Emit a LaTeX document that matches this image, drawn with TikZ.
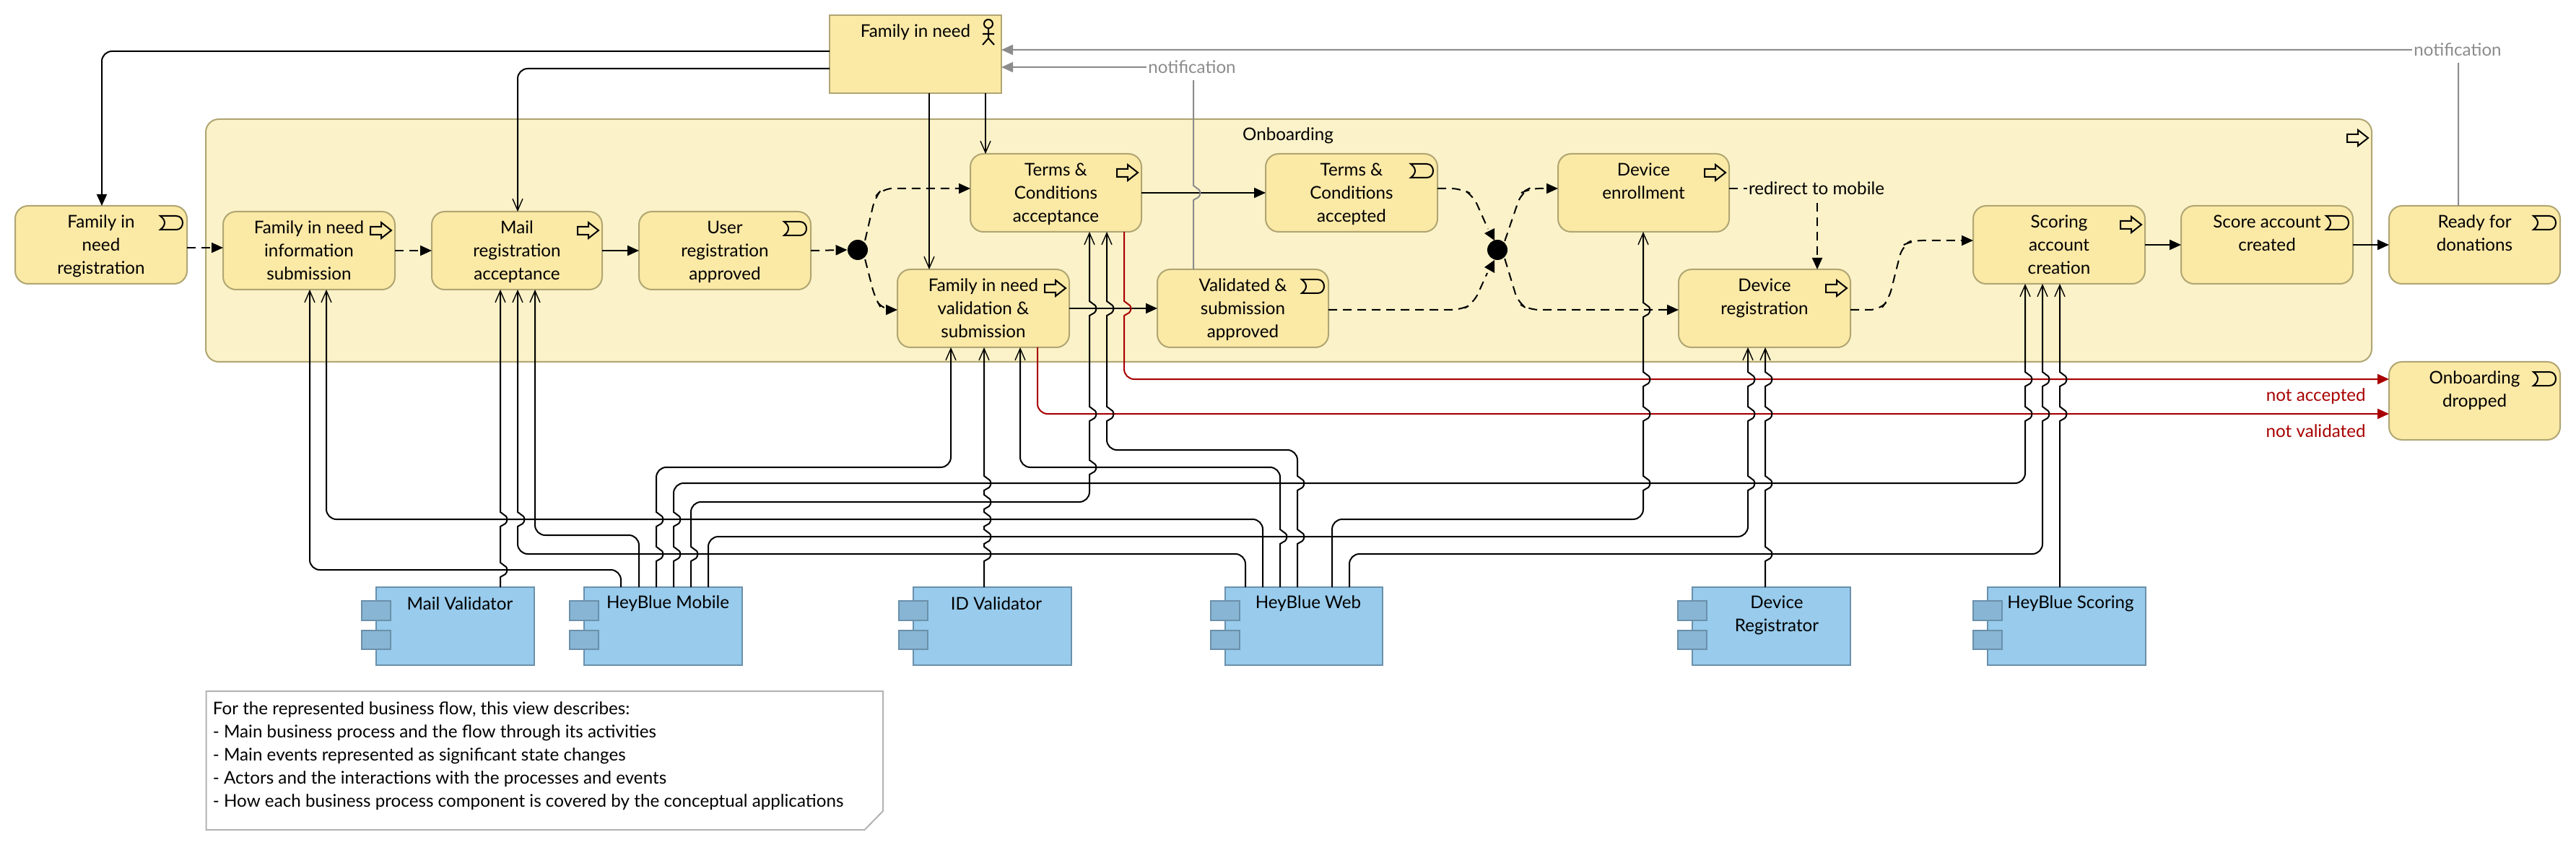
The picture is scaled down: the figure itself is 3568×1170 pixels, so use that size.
\documentclass[tikz,border=0pt]{standalone}
\usepackage{fontspec}
\setmainfont{Lato}
\usetikzlibrary{arrows.meta,calc}
\definecolor{yel}{HTML}{FBE9A6}
\definecolor{grp}{HTML}{FBF2C9}
\definecolor{yelb}{HTML}{B0A672}
\definecolor{blu}{HTML}{98CBEC}
\definecolor{blub}{HTML}{6A90AB}
\definecolor{blun}{HTML}{88B5D4}
\definecolor{rd}{HTML}{A80000}
\definecolor{gry}{HTML}{8C8C8C}
\definecolor{noteb}{HTML}{B3B3B3}
\newcommand{\txtsize}{\fontsize{12.1pt}{16pt}\selectfont}
\newcommand{\tb}[1]{\parbox[c][54pt][t]{112pt}{\centering\txtsize\vspace*{4.2pt}\strut #1\strut}}
% jump of a line over another one
\newcommand{\bU}[2]{[sharp corners] -- (#1,#2+10) -- (#1+7,#2+6) .. controls (#1+10,#2+3) and (#1+10,#2-2) .. (#1+8,#2-4) -- (#1,#2-10) [rounded corners=7pt]}
\newcommand{\bD}[2]{[sharp corners] -- (#1,#2-10) -- (#1+8,#2-4) .. controls (#1+10,#2-2) and (#1+10,#2+3) .. (#1+7,#2+6) -- (#1,#2+10) [rounded corners=7pt]}
\newcommand{\icP}[1]{\draw[icon,shift={(#1.north east)}] (-34,21) -- (-19,21) -- (-19,15) -- (-5,26) -- (-19,37) -- (-19,32) -- (-34,32) -- cycle;}
\newcommand{\icE}[1]{\draw[icon,shift={(#1.north east)}] (-37,14) -- (-15,14) .. controls (-3,14) and (-3,33) .. (-15,33) -- (-37,33) .. controls (-29,27) and (-29,20) .. (-37,14) -- cycle;}
\newcommand{\notches}[1]{%
 \draw[notch] ($(#1.north west)+(-20,19)$) rectangle ($(#1.north west)+(20,46)$);
 \draw[notch] ($(#1.north west)+(-20,60)$) rectangle ($(#1.north west)+(20,86)$);}
\tikzset{
 x=0.5pt,y=-0.5pt,
 ybox/.style={draw=yelb,fill=yel,line width=1pt,rounded corners=9pt,minimum height=54pt,inner sep=0pt,outer sep=0pt,anchor=north west},
 act/.style={draw=yelb,fill=yel,line width=1pt,minimum height=54pt,inner sep=0pt,outer sep=0pt,anchor=north west},
 cmp/.style={draw=blub,fill=blu,line width=1pt,minimum height=54pt,inner sep=0pt,outer sep=0pt,anchor=north west},
 notch/.style={draw=blub,fill=blun,line width=1pt},
 icon/.style={draw=black,line width=1pt,line join=miter},
 conn/.style={draw=black,line width=1pt,rounded corners=7pt},
 srv/.style={conn,-{Straight Barb[length=8pt,width=7pt,line width=0.7pt]}},
 trg/.style={conn,-{Triangle[length=8pt,width=7pt]}},
 flw/.style={trg,dash pattern=on 6pt off 4pt},
 gryl/.style={conn,draw=gry,-{Triangle[length=8pt,width=7pt,fill=gry]}},
 redl/.style={conn,draw=rd,-{Triangle[length=8pt,width=7pt,fill=rd]}},
 lab/.style={inner sep=1pt,font=\txtsize},
}
\begin{document}
\begin{tikzpicture}
\useasboundingbox (0,0) rectangle (3568,1170);
\fill[white] (0,0) rectangle (3568,1170);
% group
\node[ybox,fill=grp,minimum width=1500pt,minimum height=168pt] (group) at (285,165) {};
\node[lab] (grouplabel) at (1784,188) {Onboarding};
% actor
\node[act,minimum width=119pt] (actor) at (1149,21) {\tb{Family in need}};
% boxes
\node[ybox,minimum width=119pt] (reg) at (21,285) {\tb{Family in\\need\\registration}};
\node[ybox,minimum width=119pt] (info) at (309,293) {\tb{Family in need\\information\\submission}};
\node[ybox,minimum width=118pt] (mail) at (598,293) {\tb{Mail\\registration\\acceptance}};
\node[ybox,minimum width=119pt] (user) at (885,293) {\tb{User\\registration\\approved}};
\node[ybox,minimum width=118.5pt] (terms) at (1344,213) {\tb{Terms \&\\Conditions\\acceptance}};
\node[ybox,minimum width=119pt] (accepted) at (1753,213) {\tb{Terms \&\\Conditions\\accepted}};
\node[ybox,minimum width=118.5pt] (enroll) at (2158,213) {\tb{Device\\enrollment}};
\node[ybox,minimum width=119pt] (valid) at (1243,373) {\tb{Family in need\\validation \&\\submission}};
\node[ybox,minimum width=118.5pt] (validated) at (1603,373) {\tb{Validated \&\\submission\\approved}};
\node[ybox,minimum width=119pt] (devreg) at (2325,373) {\tb{Device\\registration}};
\node[ybox,minimum width=119pt] (scoring) at (2733,285) {\tb{Scoring\\account\\creation}};
\node[ybox,minimum width=119pt] (created) at (3021,285) {\tb{Score account\\created}};
\node[ybox,minimum width=118.5pt] (ready) at (3309,285) {\tb{Ready for\\donations}};
\node[ybox,minimum width=118.5pt] (dropped) at (3309,501) {\tb{Onboarding\\dropped}};
% icons
\icP{group}\icP{info}\icP{mail}\icP{terms}\icP{enroll}\icP{valid}\icP{devreg}\icP{scoring}
\icE{reg}\icE{user}\icE{accepted}\icE{validated}\icE{created}\icE{ready}\icE{dropped}
\draw[icon,shift={(actor.north east)}] (-18,12) circle[radius=3pt];
\draw[icon,shift={(actor.north east)}] (-18,18) -- (-18,32) (-26,26) -- (-10,26) (-26,41) -- (-18,32) -- (-10,41);
% applications
\node[cmp,minimum width=109.5pt] (mailval) at (520.5,813) {};
\node[cmp,minimum width=109.5pt] (mobile) at (809,813) {};
\node[cmp,minimum width=109.5pt] (idval) at (1265,813) {};
\node[cmp,minimum width=109pt] (web) at (1697,813) {};
\node[cmp,minimum width=109.5pt] (devapp) at (2344,813) {};
\node[cmp,minimum width=109.5pt] (scapp) at (2752.5,813) {};
\notches{mailval}\notches{mobile}\notches{idval}\notches{web}\notches{devapp}\notches{scapp}
\node[lab] (lmailval) at (637,836) {Mail Validator};
\node[lab] (lmobile) at (925,836) {HeyBlue Mobile};
\node[lab] (lidval) at (1380,836) {ID Validator};
\node[lab] (lweb) at (1812,836) {HeyBlue Web};
\node[lab,align=center] (ldevapp) at (2461,852) {Device\\Registrator};
\node[lab] (lscapp) at (2868,836) {HeyBlue Scoring};
% junctions
\node[circle,fill=black,minimum size=14pt,inner sep=0pt] (j1) at (1188,346) {};
\node[circle,fill=black,minimum size=14pt,inner sep=0pt] (j2) at (2074,346) {};
% flows
\draw[flw] (reg.east |- 0,343) -- (info.west |- 0,343);
\draw[flw] (info.east) -- (mail.west);
\draw[trg] (mail.east) -- (user.west);
\draw[flw] (user.east) -- (j1.west);
\draw[flw] (j1.north east) ++(0,-3) -- (1212,273) -- (1222,261) -- (terms.west |- 0,261);
\draw[flw] (j1.south east) ++(0,3) -- (1212,413) -- (1222,429) -- (valid.west |- 0,429);
\draw[trg] (terms.east) -- (accepted.west);
\draw[trg] (valid.east) -- (validated.west);
\draw[flw,-] (accepted.east |- 0,261) -- (2024,261) -- (2040,270) -- (2061,317);
\draw[flw,-] (validated.east |- 0,429) -- (2024,429) -- (2041,420) -- (2060,378);
\fill ($(j2)+(-18,-23)$) -- ($(j2)+(-4,-30)$) -- ($(j2)+(-4,-13)$) -- cycle;
\fill ($(j2)+(-18,24)$) -- ($(j2)+(-4,14)$) -- ($(j2)+(-4,32)$) -- cycle;
\draw[flw] (j2.north east) ++(0,-2) -- (2107,267) -- (2118,261) -- (enroll.west |- 0,261);
\draw[flw] (j2.south east) ++(0,2) -- (2103,420) -- (2118,429) -- (devreg.west |- 0,429);
\draw[flw] (devreg.east |- 0,429) -- (2604,429) -- (2616,415) -- (2635,340) -- (2648,333) -- (scoring.west |- 0,333);
\draw[trg] (scoring.east) -- (created.west);
\draw[trg] (created.east) -- (ready.west);
\draw[flw,-] (enroll.east |- 0,261) -- (2517,261);
\draw[flw] (2517,261) -- (devreg.north -| 2517,0);
% actor links
\draw[trg] (actor.west |- 0,71) -- (141,71) -- (reg.north -| 141,0);
\draw[srv] (actor.west |- 0,95) -- (717,95) -- (mail.north -| 717,0);
\draw[srv] (actor.south -| 1287,0) -- (valid.north -| 1287,0);
\draw[srv] (actor.south -| 1365,0) -- (terms.north -| 1365,0);
% notifications
\draw[gryl] (ready.north -| 3405,0) -- (3405,69) -- (actor.east |- 0,69);
\draw[gryl] (validated.north -| 1653,0) \bU{1653}{267} -- (1653,93) -- (actor.east |- 0,93);
% failures
\draw[redl] (terms.south -| 1557,0) \bD{1557}{427} -- (1557,525) -- (dropped.west |- 0,525);
\draw[redl] (valid.south -| 1437,0) -- (1437,573) -- (dropped.west |- 0,573);
% serving
\draw[srv] (mailval.north -| 693,0) \bU{693}{789} \bU{693}{719} -- (mail.south -| 693,0);
\draw[srv] (mobile.north -| 860,0) -- (860,789) -- (429,789) -- (info.south -| 429,0);
\draw[srv] (mobile.north -| 885,0) -- (885,741) -- (741,741) -- (mail.south -| 741,0);
\draw[srv] (mobile.north -| 909,0) \bU{909}{767} \bU{909}{719} -- (909,647) -- (1317,647) -- (valid.south -| 1317,0);
\draw[srv] (mobile.north -| 933,0) \bU{933}{767} \bU{933}{719} -- (933,669) -- (2805,669) \bU{2805}{573} \bU{2805}{525} -- (scoring.south -| 2805,0);
\draw[srv] (mobile.north -| 957,0) \bU{957}{767} -- (957,695) -- (1509,695) \bU{1509}{647} \bU{1509}{573} \bU{1509}{427} -- (terms.south -| 1509,0);
\draw[srv] (mobile.north -| 981,0) -- (981,743) -- (2421,743) \bU{2421}{669} \bU{2421}{573} \bU{2421}{525} -- (devreg.south -| 2421,0);
\draw[srv] (idval.north -| 1363,0) \bU{1363}{767} \bU{1363}{743} \bU{1363}{719} \bU{1363}{695} \bU{1363}{669} -- (valid.south -| 1363,0);
\draw[srv] (web.north -| 1725,0) -- (1725,767) -- (717,767) \bU{717}{719} -- (mail.south -| 717,0);
\draw[srv] (web.north -| 1749,0) -- (1749,719) -- (452,719) -- (info.south -| 452,0);
\draw[srv] (web.north -| 1773,0) \bU{1773}{743} -- (1773,647) -- (1413,647) -- (valid.south -| 1413,0);
\draw[srv] (web.north -| 1797,0) \bU{1797}{743} \bU{1797}{669} -- (1797,623) -- (1533,623) \bU{1533}{573} \bU{1533}{427} -- (terms.south -| 1533,0);
\draw[srv] (web.north -| 1845,0) -- (1845,719) -- (2276,719) \bU{2276}{669} \bU{2276}{573} \bU{2276}{525} \bU{2276}{429} -- (enroll.south -| 2276,0);
\draw[srv] (web.north -| 1869,0) -- (1869,767) -- (2829,767) \bU{2829}{573} \bU{2829}{525} -- (scoring.south -| 2829,0);
\draw[srv] (devapp.north -| 2445,0) \bU{2445}{767} \bU{2445}{669} \bU{2445}{573} \bU{2445}{525} -- (devreg.south -| 2445,0);
\draw[srv] (scapp.north -| 2853,0) \bU{2853}{573} \bU{2853}{525} -- (scoring.south -| 2853,0);
% labels
\node[lab,fill=white,text=gry,minimum height=18pt] (n1) at (1651,93) {notification};
\node[lab,fill=white,text=gry,minimum height=18pt] (n2) at (3404,69) {notification};
\node[lab,fill=grp,minimum height=17pt] (redir) at (2516,261) {redirect to mobile};
\node[lab,text=rd,anchor=east] (na) at (3279,549) {not accepted};
\node[lab,text=rd,anchor=east] (nv) at (3279,597) {not validated};
% note
\draw[draw=noteb,fill=white,line width=1pt] (285.5,957) -- (1223,957) -- (1223,1123) -- (1197.5,1149) -- (285.5,1149) -- cycle;
\node[lab,anchor=north west,align=left,inner sep=0pt] (note) at (294.5,971) {For the represented business flow, this view describes:\\- Main business process and the flow through its activities\\- Main events represented as significant state changes\\- Actors and the interactions with the processes and events\\- How each business process component is covered by the conceptual applications};
\end{tikzpicture}
\end{document}
